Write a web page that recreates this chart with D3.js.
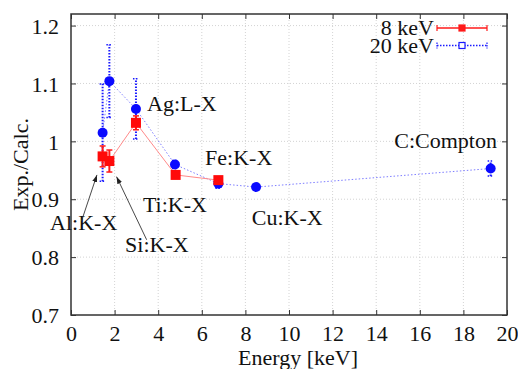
<!DOCTYPE html>
<html>
<head>
<meta charset="utf-8">
<script src="https://cdnjs.cloudflare.com/ajax/libs/d3/7.8.5/d3.min.js"></script>
<style>
  body { margin: 0; background: #fff; }
  text { font-family: "Liberation Serif", "DejaVu Serif", serif; font-size: 22px; fill: #111; }
</style>
</head>
<body>
<div id="chart"></div>
<script>
// 8 keV beam
const energy8 = [1.45, 1.76, 2.98, 4.8, 6.76];
const ratio8 = [0.974, 0.966, 1.032, 0.942, 0.933];
const err8 = [0.018, 0.019, 0.012, 0.005, 0.005];

// 20 keV beam
const energy20 = [1.45, 1.76, 2.98, 4.77, 6.76, 8.49, 19.25];
const ratio20 = [1.015, 1.104, 1.056, 0.960, 0.927, 0.921, 0.953];
const err20 = [0.084, 0.063, 0.052, 0.007, 0.008, 0.004, 0.013];

const xTicks = [0, 2, 4, 6, 8, 10, 12, 14, 16, 18, 20];
const yTicks = [0.7, 0.8, 0.9, 1.0, 1.1, 1.2];

const labelText = ['Ag:L-X', 'Fe:K-X', 'Ti:K-X', 'Cu:K-X', 'Al:K-X', 'Si:K-X', 'C:Compton'];
const labelE = [3.49, 6.15, 3.30, 8.29, -0.96, 2.48, 19.54];
const labelV = [1.052, 0.959, 0.878, 0.855, 0.847, 0.809, 0.989];

// arrows: [tailE, tailV, headE, headV]
const arrows = [[0.48, 0.862, 1.19, 0.942], [3.47, 0.830, 2.09, 0.939]];

const legendNames = ['8 keV', '20 keV'];

const W = 518, H = 369;
const m = {left: 71, right: 11, top: 14, bottom: 54};

const svg = d3.select('#chart').append('svg')
  .attr('width', W).attr('height', H);

const x = d3.scaleLinear().domain([0, 20]).range([m.left, W - m.right]);
const y = d3.scaleLinear().domain([0.7, 1.22]).range([H - m.bottom, m.top]);

// grid
const grid = svg.append('g');
xTicks.slice(1, -1).forEach(t => {
  grid.append('line').attr('x1', x(t)).attr('x2', x(t)).attr('y1', y.range()[0]).attr('y2', y.range()[1])
    .attr('stroke', '#c8c8c8').attr('stroke-width', 0.8).attr('stroke-dasharray', '1,2');
});
yTicks.slice(1).forEach(t => {
  grid.append('line').attr('x1', x.range()[0]).attr('x2', x.range()[1]).attr('y1', y(t)).attr('y2', y(t))
    .attr('stroke', '#c8c8c8').attr('stroke-width', 0.8).attr('stroke-dasharray', '1,2');
});

// axes with inward ticks, mirrored
const axB = svg.append('g').attr('transform', `translate(0,${y.range()[0]})`)
  .call(d3.axisBottom(x).tickValues(xTicks).tickSize(-5).tickPadding(10).tickFormat(d3.format('d')));
const axT = svg.append('g').attr('transform', `translate(0,${y.range()[1]})`)
  .call(d3.axisTop(x).tickValues(xTicks).tickSize(-5).tickFormat(''));
const axL = svg.append('g').attr('transform', `translate(${x.range()[0]},0)`)
  .call(d3.axisLeft(y).tickValues(yTicks).tickSize(-5).tickPadding(12).tickFormat(d => d === 1 ? '1' : d3.format('.1f')(d)));
const axR = svg.append('g').attr('transform', `translate(${x.range()[1]},0)`)
  .call(d3.axisRight(y).tickValues(yTicks).tickSize(-5).tickFormat(''));
[axB, axT, axL, axR].forEach(a => {
  a.select('.domain').remove();
  a.selectAll('line').attr('stroke', '#333').attr('stroke-width', 1);
  a.selectAll('text').attr('font-family', null).attr('font-size', null).style('fill', '#111');
});
axL.selectAll('text').attr('dy', '0.35em');
axB.selectAll('text').attr('dy', '0.71em');

svg.append('rect')
  .attr('x', x.range()[0]).attr('y', y.range()[1])
  .attr('width', x.range()[1] - x.range()[0]).attr('height', y.range()[0] - y.range()[1])
  .attr('fill', 'none').attr('stroke', '#333').attr('stroke-width', 1.5);

// axis titles
svg.append('text').attr('x', 298).attr('y', 365).attr('text-anchor', 'middle').text('Energy [keV]');
svg.append('text')
  .attr('transform', `translate(28,${(y.range()[0] + y.range()[1]) / 2}) rotate(-90)`)
  .attr('text-anchor', 'middle').text('Exp./Calc.');

// connecting lines
const pts20 = energy20.map((e, i) => [e, ratio20[i]]);
const pts8 = energy8.map((e, i) => [e, ratio8[i]]);
const line = d3.line().x(d => x(d[0])).y(d => y(d[1]));

svg.append('path').datum(pts20).attr('d', line)
  .attr('fill', 'none').attr('stroke', '#6f6fff').attr('stroke-width', 0.9).attr('stroke-dasharray', '1.5,2');
svg.append('path').datum(pts8).attr('d', line)
  .attr('fill', 'none').attr('stroke', '#ff8a8a').attr('stroke-width', 1);

function errorBars(g, es, vs, errs, color, dash) {
  es.forEach((e, i) => {
    const cx = x(e), y0 = y(vs[i] - errs[i]), y1 = y(vs[i] + errs[i]);
    g.append('line').attr('x1', cx).attr('x2', cx).attr('y1', y0).attr('y2', y1)
      .attr('stroke', color).attr('stroke-width', 2).attr('stroke-dasharray', dash);
    [y0, y1].forEach(yy => {
      g.append('line').attr('x1', cx - 3).attr('x2', cx + 3).attr('y1', yy).attr('y2', yy)
        .attr('stroke', color).attr('stroke-width', 1.5).attr('stroke-dasharray', dash);
    });
  });
}

// 20 keV
const g20 = svg.append('g');
errorBars(g20, energy20, ratio20, err20, '#1a1aff', '1.5,1.5');
g20.selectAll('circle').data(pts20).enter().append('circle')
  .attr('cx', d => x(d[0])).attr('cy', d => y(d[1])).attr('r', 5)
  .attr('fill', '#0a0aff');

// 8 keV
const g8 = svg.append('g');
errorBars(g8, energy8, ratio8, err8, '#ff1a1a', null);
g8.selectAll('rect').data(pts8).enter().append('rect')
  .attr('x', d => x(d[0]) - 5).attr('y', d => y(d[1]) - 5)
  .attr('width', 10).attr('height', 10)
  .attr('fill', '#ff0a0a');

// annotations
labelText.forEach((t, i) => {
  svg.append('text').attr('x', x(labelE[i])).attr('y', y(labelV[i]))
    .attr('text-anchor', t === 'C:Compton' ? 'end' : 'start').text(t);
});

svg.append('defs').append('marker')
  .attr('id', 'ah').attr('viewBox', '0 0 10 10').attr('refX', 10).attr('refY', 5)
  .attr('markerWidth', 8).attr('markerHeight', 8).attr('orient', 'auto')
  .append('path').attr('d', 'M0,1.5 L10,5 L0,8.5 Z').attr('fill', '#222');
arrows.forEach(a => {
  svg.append('line')
    .attr('x1', x(a[0])).attr('y1', y(a[1])).attr('x2', x(a[2])).attr('y2', y(a[3]))
    .attr('stroke', '#333').attr('stroke-width', 0.9).attr('marker-end', 'url(#ah)');
});

// legend
const lg = svg.append('g');
const lx0 = 437, lx1 = 487, lxm = 462;
legendNames.forEach((name, i) => {
  const ly = 28 + i * 17.5;
  const red = i === 0;
  const col = red ? '#ff1a1a' : '#1a1aff';
  lg.append('text').attr('x', 434).attr('y', ly).attr('dy', '0.32em').attr('text-anchor', 'end').text(name);
  lg.append('line').attr('x1', lx0).attr('x2', lx1).attr('y1', ly).attr('y2', ly)
    .attr('stroke', col).attr('stroke-width', red ? 1.5 : 1.5).attr('stroke-dasharray', red ? null : '1.5,1.5');
  [lx0, lx1].forEach(xx => {
    lg.append('line').attr('x1', xx).attr('x2', xx).attr('y1', ly - 3).attr('y2', ly + 3)
      .attr('stroke', col).attr('stroke-width', 1.2).attr('stroke-dasharray', red ? null : '1.5,1');
  });
  lg.append('rect').attr('x', lxm - 3).attr('y', ly - 3).attr('width', 6).attr('height', 6)
    .attr('fill', red ? col : '#fff').attr('stroke', col).attr('stroke-width', 1.2);
});
</script>
</body>
</html>
